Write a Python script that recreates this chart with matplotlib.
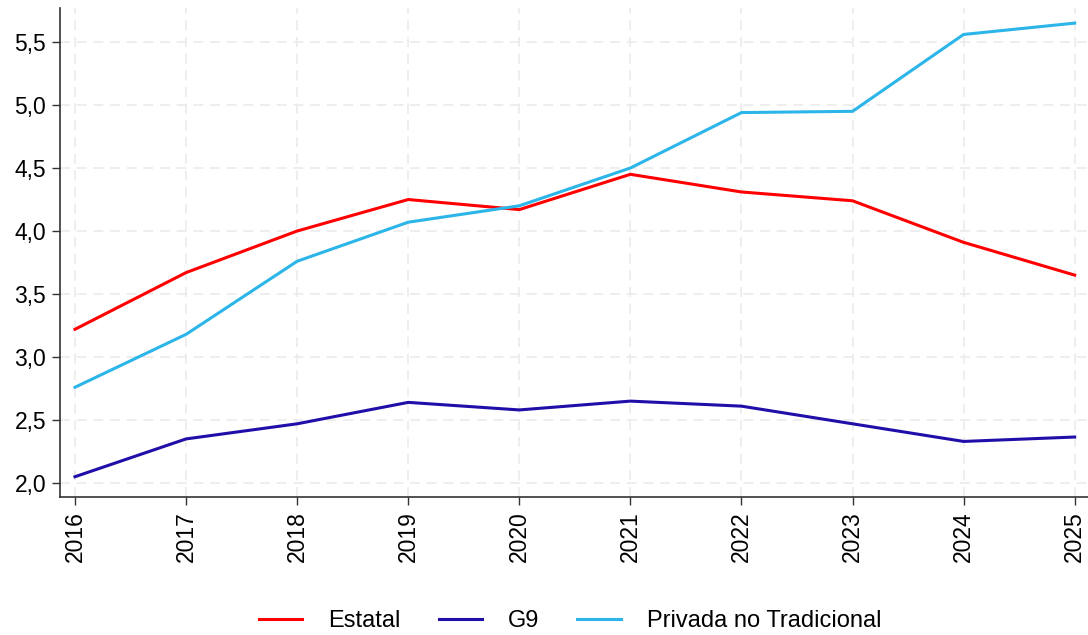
import matplotlib
matplotlib.use("Agg")
import matplotlib.pyplot as plt
from matplotlib.ticker import FuncFormatter

plt.rcParams['font.family'] = ['Liberation Sans', 'DejaVu Sans']

years = [2016, 2017, 2018, 2019, 2020, 2021, 2022, 2023, 2024, 2025]
estatal = [3.22, 3.67, 4.00, 4.25, 4.17, 4.45, 4.31, 4.24, 3.91, 3.65]
g9 = [2.05, 2.35, 2.47, 2.64, 2.58, 2.65, 2.61, 2.47, 2.33, 2.365]
privada = [2.76, 3.18, 3.76, 4.07, 4.20, 4.50, 4.94, 4.95, 5.56, 5.65]

fig = plt.figure(figsize=(10.88, 6.35), dpi=100)
ax = fig.add_axes([60 / 1088, 1 - 497 / 635, 1028 / 1088, 489 / 635])

ax.plot(years, estatal, color="#FF0000", lw=2.2, label="Estatal")
ax.plot(years, g9, color="#1F0FA8", lw=2.2, label="G9")
ax.plot(years, privada, color="#2BB5E8", lw=2.2, label="Privada no Tradicional")

ax.set_xlim(2015.865, 2025.12)
ax.set_ylim(1.889, 5.77)
ax.set_xticks(years)
ax.set_xticklabels([str(y) for y in years], rotation=90)
ax.set_yticks([2.0, 2.5, 3.0, 3.5, 4.0, 4.5, 5.0, 5.5])
ax.yaxis.set_major_formatter(FuncFormatter(lambda v, p: f"{v:.1f}".replace(".", ",")))
ax.tick_params(labelsize=16.5, length=6, width=1, color="#333333", pad=4)

ax.grid(True, color="#EBEBEB", linestyle=(0, (6, 4)), lw=1.2)
ax.set_axisbelow(True)
for s in ["top", "right"]:
    ax.spines[s].set_visible(False)
for s in ["left", "bottom"]:
    ax.spines[s].set_color("#333333")
    ax.spines[s].set_linewidth(1.2)

fig.legend(loc="center", bbox_to_anchor=(0.524, 14 / 635), ncol=3, frameon=False,
           fontsize=17, handlelength=1.85, handletextpad=1.1, columnspacing=1.6,
           borderpad=0)

fig.savefig("out.png", dpi=100)
